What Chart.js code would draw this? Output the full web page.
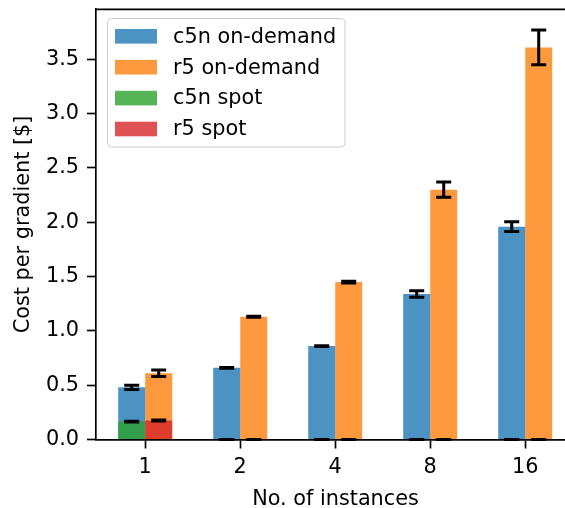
<!DOCTYPE html>
<html lang="en">
<head>
<meta charset="UTF-8">
<title>Cost per gradient</title>
<script src="https://cdn.jsdelivr.net/npm/chart.js"></script>
<style>
  body { margin: 0; padding: 0; background: #fff; overflow: hidden; }
  canvas { display: block; }
</style>
</head>
<body>
<canvas id="grafico" width="600" height="508"></canvas>
<script>
// datos
const categorias = ['1', '2', '4', '8', '16'];
const c5nOnDemand = [0.48, 0.66, 0.86, 1.34, 1.96];
const c5nOnDemandErr = [0.02, 0.004, 0.004, 0.03, 0.045];
const r5OnDemand = [0.61, 1.13, 1.45, 2.30, 3.61];
const r5OnDemandErr = [0.03, 0.004, 0.008, 0.07, 0.16];
const c5nSpot = [0.165, 0, 0, 0, 0];
const c5nSpotErr = [0.004, 0, 0, 0, 0];
const r5Spot = [0.175, 0, 0, 0, 0];
const r5SpotErr = [0.004, 0, 0, 0, 0];

const FUENTE = { family: 'DejaVu Sans', size: 20.8 };
const LW = 1.67;

function puntos(valores) {
  return valores.map((v, i) => ({ x: i, y: v }));
}

// barras de error
const barrasError = {
  id: 'barrasError',
  afterDatasetsDraw(chart) {
    const ctx = chart.ctx;
    const ys = chart.scales.y;
    ctx.save();
    ctx.strokeStyle = '#000';
    chart.data.datasets.forEach((ds, i) => {
      const meta = chart.getDatasetMeta(i);
      meta.data.forEach((bar, j) => {
        const v = ds.data[j].y, e = ds.errores[j];
        const arriba = ys.getPixelForValue(v + e);
        const abajo = ys.getPixelForValue(v - e);
        ctx.lineWidth = 3;
        ctx.beginPath();
        ctx.moveTo(bar.x, arriba);
        ctx.lineTo(bar.x, abajo);
        ctx.moveTo(bar.x - 7.5, arriba);
        ctx.lineTo(bar.x + 7.5, arriba);
        ctx.moveTo(bar.x - 7.5, abajo);
        ctx.lineTo(bar.x + 7.5, abajo);
        ctx.stroke();
      });
    });
    ctx.restore();
  }
};

// marco superior y leyenda
const marcoLeyenda = {
  id: 'marcoLeyenda',
  afterDraw(chart) {
    const ctx = chart.ctx;
    const a = chart.chartArea;
    ctx.save();
    ctx.strokeStyle = '#000';
    ctx.lineWidth = LW;
    ctx.beginPath();
    ctx.moveTo(a.left, a.top);
    ctx.lineTo(chart.width, a.top);
    ctx.stroke();

    const x0 = 107.5, y0 = 18.5, w = 237.5, h = 128.5;
    ctx.beginPath();
    ctx.roundRect(x0, y0, w, h, 4);
    ctx.fillStyle = 'rgba(255,255,255,0.8)';
    ctx.fill();
    ctx.strokeStyle = '#cccccc';
    ctx.lineWidth = 1;
    ctx.stroke();

    ctx.font = FUENTE.size + 'px "' + FUENTE.family + '"';
    ctx.textBaseline = 'middle';
    ctx.textAlign = 'left';
    chart.data.datasets.forEach((ds, i) => {
      const cy = 36.3 + i * 30.9;
      ctx.fillStyle = ds.backgroundColor;
      ctx.fillRect(115, cy - 7.3, 42, 14.6);
      ctx.fillStyle = '#000';
      ctx.fillText(ds.label, 173, cy + 1);
    });
    ctx.restore();
  }
};

const ctx = document.getElementById('grafico').getContext('2d');
const grafico = new Chart(ctx, {
  type: 'bar',
  data: {
    datasets: [
      { label: 'c5n on-demand', data: puntos(c5nOnDemand), errores: c5nOnDemandErr,
        backgroundColor: 'rgba(31,119,180,0.8)', stack: 'c5n', order: 1 },
      { label: 'r5 on-demand', data: puntos(r5OnDemand), errores: r5OnDemandErr,
        backgroundColor: 'rgba(255,127,14,0.8)', stack: 'r5', order: 1 },
      { label: 'c5n spot', data: puntos(c5nSpot), errores: c5nSpotErr,
        backgroundColor: 'rgba(44,160,44,0.8)', stack: 'c5n', order: 0 },
      { label: 'r5 spot', data: puntos(r5Spot), errores: r5SpotErr,
        backgroundColor: 'rgba(214,39,40,0.8)', stack: 'r5', order: 0 }
    ]
  },
  options: {
    responsive: false,
    animation: false,
    layout: { padding: { top: 9.3, right: 25, left: 0, bottom: 0 } },
    categoryPercentage: 0.5684,
    barPercentage: 1,
    plugins: { legend: { display: false }, tooltip: { enabled: false } },
    scales: {
      x: {
        type: 'linear',
        min: -0.518,
        max: 4.524,
        offset: false,
        stacked: true,
        afterBuildTicks: s => { s.ticks = categorias.map((c, i) => ({ value: i })); },
        afterFit: s => { s.height = 68.5; s.paddingLeft = 0; s.paddingRight = 0; },
        ticks: {
          callback: v => categorias[v],
          font: FUENTE, color: '#000', padding: 7,
          maxRotation: 0, autoSkip: false
        },
        grid: { offset: false, drawOnChartArea: false, tickLength: 9, tickWidth: LW, tickColor: '#000' },
        border: { color: '#000', width: LW },
        title: { display: true, text: 'No. of instances', font: FUENTE, color: '#000',
                 padding: { top: 0, bottom: -4 } }
      },
      y: {
        min: 0,
        max: 3.961,
        stacked: false,
        afterBuildTicks: s => {
          s.ticks = s.ticks.filter(t => Math.abs(t.value * 2 - Math.round(t.value * 2)) < 1e-9);
        },
        afterFit: s => { s.width = 96; s.paddingTop = 0; s.paddingBottom = 0; },
        ticks: {
          stepSize: 0.5,
          callback: v => v.toFixed(1),
          font: FUENTE, color: '#000', padding: 8
        },
        grid: { drawOnChartArea: false, tickLength: 9, tickWidth: LW, tickColor: '#000' },
        border: { color: '#000', width: LW },
        title: { display: true, text: 'Cost per gradient [$]', font: FUENTE, color: '#000',
                 padding: { top: 11, bottom: 0 } }
      }
    }
  },
  plugins: [barrasError, marcoLeyenda]
});
</script>
</body>
</html>
